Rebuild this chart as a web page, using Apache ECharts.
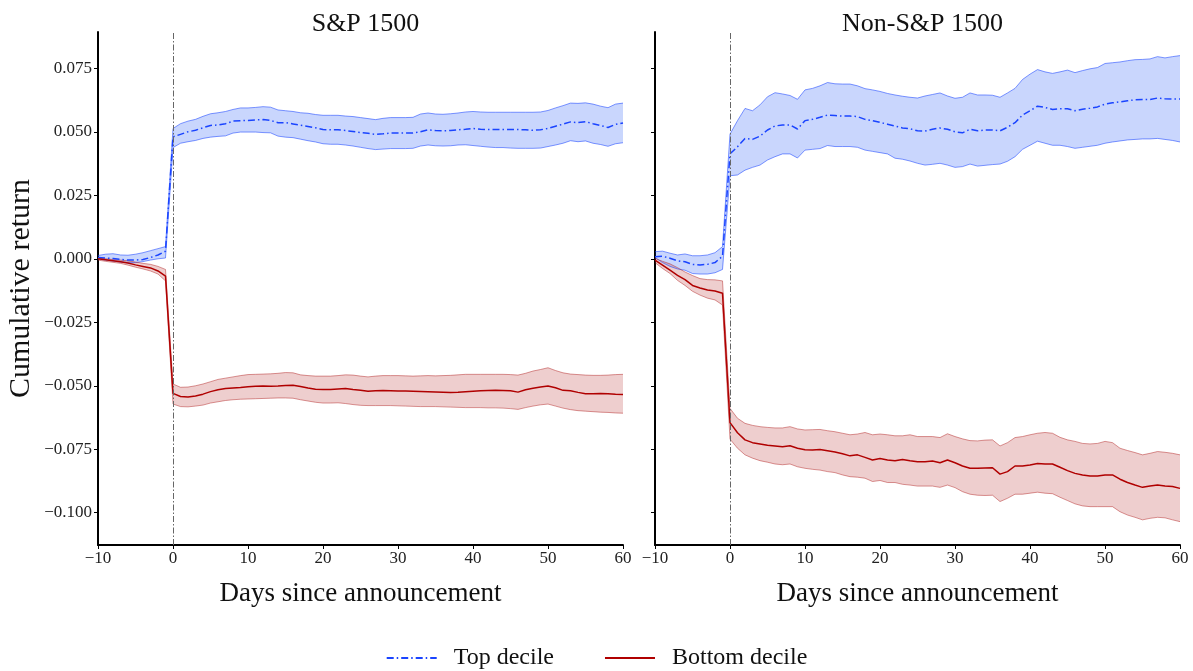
<!DOCTYPE html>
<html>
<head>
<meta charset="utf-8">
<title>Cumulative return around announcement</title>
<script src="https://cdn.jsdelivr.net/npm/echarts@6.0.0/dist/echarts.min.js"></script>
<style>
html, body { margin: 0; padding: 0; background: #fff; }
#chart { width: 1193px; height: 671px; }
</style>
</head>
<body>
<div id="chart"></div>
<script>
// days -10 .. 60 around the announcement (category labels)
var days = [];
for (var d = -10; d <= 60; d++) {
	days.push(String(d));
}

var panelTitles = ['S&P 1500', 'Non-S&P 1500'];
var yTicks = [-0.100, -0.075, -0.050, -0.025, 0.000, 0.025, 0.050, 0.075];

// S&P 1500 - top decile
var ltMean = [0.0005, 0.0003, 0.0001, -0.0002, -0.0005, -0.0005, -0.0003, 0.0005, 0.0015, 0.0030,
	0.0480, 0.0490, 0.0500, 0.0506, 0.0516, 0.0525, 0.0527, 0.0532, 0.0542, 0.0544,
	0.0545, 0.0547, 0.0548, 0.0545, 0.0536, 0.0536, 0.0531, 0.0526, 0.0521, 0.0516,
	0.0509, 0.0508, 0.0508, 0.0505, 0.0501, 0.0497, 0.0494, 0.0490, 0.0492, 0.0495,
	0.0495, 0.0495, 0.0495, 0.0500, 0.0508, 0.0505, 0.0504, 0.0505, 0.0508, 0.0510,
	0.0513, 0.0510, 0.0509, 0.0509, 0.0509, 0.0509, 0.0509, 0.0508, 0.0506, 0.0508,
	0.0513, 0.0522, 0.0530, 0.0539, 0.0536, 0.0540, 0.0532, 0.0525, 0.0517, 0.0529,
	0.0535];
var ltUp = [0.0013, 0.0018, 0.0020, 0.0015, 0.0014, 0.0018, 0.0024, 0.0032, 0.0040, 0.0048,
	0.0513, 0.0532, 0.0542, 0.0549, 0.0561, 0.0571, 0.0575, 0.0580, 0.0588, 0.0594,
	0.0594, 0.0596, 0.0599, 0.0597, 0.0586, 0.0583, 0.0580, 0.0575, 0.0573, 0.0568,
	0.0565, 0.0565, 0.0565, 0.0562, 0.0560, 0.0556, 0.0552, 0.0548, 0.0553, 0.0556,
	0.0556, 0.0556, 0.0557, 0.0570, 0.0574, 0.0570, 0.0569, 0.0571, 0.0574, 0.0578,
	0.0580, 0.0578, 0.0577, 0.0577, 0.0577, 0.0577, 0.0577, 0.0577, 0.0577, 0.0578,
	0.0584, 0.0594, 0.0603, 0.0613, 0.0612, 0.0614, 0.0609, 0.0601, 0.0595, 0.0609,
	0.0613];
var ltLo = [0.0000, -0.0005, -0.0009, -0.0013, -0.0016, -0.0015, -0.0011, -0.0005, 0.0000, 0.0003,
	0.0438, 0.0455, 0.0461, 0.0466, 0.0474, 0.0479, 0.0482, 0.0484, 0.0495, 0.0499,
	0.0499, 0.0499, 0.0497, 0.0496, 0.0483, 0.0479, 0.0477, 0.0471, 0.0465, 0.0460,
	0.0453, 0.0451, 0.0451, 0.0448, 0.0444, 0.0439, 0.0434, 0.0430, 0.0432, 0.0434,
	0.0434, 0.0434, 0.0435, 0.0444, 0.0448, 0.0445, 0.0444, 0.0445, 0.0448, 0.0449,
	0.0446, 0.0443, 0.0440, 0.0438, 0.0438, 0.0436, 0.0435, 0.0435, 0.0435, 0.0436,
	0.0442, 0.0448, 0.0455, 0.0465, 0.0461, 0.0464, 0.0455, 0.0450, 0.0443, 0.0453,
	0.0457];

// S&P 1500 - bottom decile
var lbMean = [0.0000, -0.0004, -0.0008, -0.0012, -0.0017, -0.0024, -0.0030, -0.0036, -0.0048, -0.0068,
	-0.0530, -0.0542, -0.0544, -0.0540, -0.0533, -0.0523, -0.0516, -0.0511, -0.0509, -0.0507,
	-0.0504, -0.0502, -0.0501, -0.0502, -0.0501, -0.0499, -0.0498, -0.0503, -0.0509, -0.0514,
	-0.0515, -0.0515, -0.0513, -0.0511, -0.0515, -0.0518, -0.0522, -0.0520, -0.0519, -0.0520,
	-0.0521, -0.0521, -0.0522, -0.0523, -0.0524, -0.0525, -0.0526, -0.0527, -0.0526, -0.0524,
	-0.0522, -0.0520, -0.0519, -0.0518, -0.0519, -0.0520, -0.0525, -0.0516, -0.0510, -0.0505,
	-0.0501, -0.0508, -0.0518, -0.0520, -0.0526, -0.0531, -0.0531, -0.0530, -0.0531, -0.0533,
	-0.0534];
var lbUp = [0.0003, 0.0000, -0.0003, -0.0005, -0.0008, -0.0013, -0.0018, -0.0022, -0.0030, -0.0042,
	-0.0493, -0.0506, -0.0505, -0.0500, -0.0493, -0.0484, -0.0475, -0.0470, -0.0465, -0.0460,
	-0.0456, -0.0455, -0.0454, -0.0453, -0.0451, -0.0448, -0.0449, -0.0457, -0.0460, -0.0462,
	-0.0462, -0.0462, -0.0460, -0.0457, -0.0458, -0.0462, -0.0465, -0.0462, -0.0460, -0.0460,
	-0.0460, -0.0461, -0.0462, -0.0461, -0.0460, -0.0461, -0.0460, -0.0459, -0.0457, -0.0455,
	-0.0455, -0.0455, -0.0455, -0.0455, -0.0455, -0.0456, -0.0458, -0.0451, -0.0442, -0.0436,
	-0.0429, -0.0440, -0.0449, -0.0454, -0.0456, -0.0458, -0.0459, -0.0459, -0.0458, -0.0456,
	-0.0455];
var lbLo = [-0.0005, -0.0010, -0.0014, -0.0018, -0.0025, -0.0033, -0.0040, -0.0048, -0.0060, -0.0087,
	-0.0572, -0.0582, -0.0583, -0.0580, -0.0576, -0.0568, -0.0563, -0.0558, -0.0555, -0.0553,
	-0.0552, -0.0551, -0.0550, -0.0549, -0.0548, -0.0548, -0.0549, -0.0555, -0.0560, -0.0565,
	-0.0568, -0.0568, -0.0567, -0.0570, -0.0574, -0.0577, -0.0578, -0.0578, -0.0578, -0.0578,
	-0.0579, -0.0580, -0.0581, -0.0582, -0.0582, -0.0582, -0.0583, -0.0584, -0.0585, -0.0586,
	-0.0586, -0.0586, -0.0587, -0.0587, -0.0588, -0.0590, -0.0593, -0.0586, -0.0580, -0.0575,
	-0.0572, -0.0580, -0.0588, -0.0594, -0.0598, -0.0600, -0.0602, -0.0604, -0.0605, -0.0607,
	-0.0608];

// Non-S&P 1500 - top decile
var rtMean = [0.0008, 0.0010, 0.0002, -0.0008, -0.0012, -0.0022, -0.0024, -0.0022, -0.0015, 0.0010,
	0.0413, 0.0441, 0.0474, 0.0470, 0.0483, 0.0507, 0.0523, 0.0527, 0.0527, 0.0511,
	0.0544, 0.0549, 0.0557, 0.0566, 0.0564, 0.0562, 0.0562, 0.0560, 0.0549, 0.0544,
	0.0537, 0.0530, 0.0523, 0.0515, 0.0512, 0.0504, 0.0503, 0.0510, 0.0515, 0.0510,
	0.0500, 0.0496, 0.0510, 0.0504, 0.0507, 0.0507, 0.0504, 0.0518, 0.0536, 0.0566,
	0.0583, 0.0601, 0.0596, 0.0588, 0.0591, 0.0591, 0.0583, 0.0589, 0.0593, 0.0598,
	0.0609, 0.0614, 0.0618, 0.0622, 0.0626, 0.0627, 0.0627, 0.0633, 0.0630, 0.0629,
	0.0629];
var rtUp = [0.0028, 0.0030, 0.0022, 0.0015, 0.0019, 0.0012, 0.0012, 0.0015, 0.0024, 0.0048,
	0.0491, 0.0544, 0.0592, 0.0583, 0.0606, 0.0638, 0.0654, 0.0649, 0.0643, 0.0628,
	0.0665, 0.0671, 0.0681, 0.0694, 0.0689, 0.0688, 0.0688, 0.0681, 0.0670, 0.0665,
	0.0659, 0.0651, 0.0645, 0.0640, 0.0636, 0.0633, 0.0641, 0.0647, 0.0653, 0.0641,
	0.0632, 0.0636, 0.0653, 0.0645, 0.0645, 0.0644, 0.0636, 0.0653, 0.0671, 0.0706,
	0.0727, 0.0745, 0.0736, 0.0730, 0.0736, 0.0743, 0.0733, 0.0741, 0.0748, 0.0753,
	0.0769, 0.0772, 0.0775, 0.0780, 0.0784, 0.0785, 0.0787, 0.0796, 0.0791, 0.0796,
	0.0800];
var rtLo = [0.0005, -0.0015, -0.0030, -0.0040, -0.0045, -0.0058, -0.0060, -0.0060, -0.0055, -0.0042,
	0.0327, 0.0330, 0.0349, 0.0360, 0.0369, 0.0389, 0.0402, 0.0413, 0.0413, 0.0397,
	0.0428, 0.0431, 0.0434, 0.0446, 0.0442, 0.0442, 0.0442, 0.0439, 0.0428, 0.0423,
	0.0418, 0.0413, 0.0396, 0.0392, 0.0385, 0.0376, 0.0369, 0.0372, 0.0376, 0.0369,
	0.0360, 0.0363, 0.0373, 0.0365, 0.0368, 0.0371, 0.0373, 0.0384, 0.0402, 0.0431,
	0.0447, 0.0463, 0.0455, 0.0447, 0.0447, 0.0442, 0.0435, 0.0439, 0.0443, 0.0447,
	0.0455, 0.0460, 0.0464, 0.0468, 0.0470, 0.0472, 0.0472, 0.0474, 0.0470, 0.0466,
	0.0460];

// Non-S&P 1500 - bottom decile
var rbMean = [-0.0005, -0.0025, -0.0045, -0.0065, -0.0082, -0.0105, -0.0115, -0.0123, -0.0127, -0.0136,
	-0.0645, -0.0685, -0.0713, -0.0724, -0.0729, -0.0734, -0.0737, -0.0740, -0.0736, -0.0746,
	-0.0752, -0.0753, -0.0751, -0.0756, -0.0761, -0.0768, -0.0776, -0.0772, -0.0782, -0.0792,
	-0.0786, -0.0792, -0.0795, -0.0790, -0.0795, -0.0799, -0.0799, -0.0796, -0.0803, -0.0792,
	-0.0803, -0.0816, -0.0825, -0.0825, -0.0824, -0.0823, -0.0848, -0.0838, -0.0816, -0.0816,
	-0.0812, -0.0806, -0.0808, -0.0808, -0.0821, -0.0834, -0.0845, -0.0851, -0.0855, -0.0855,
	-0.0851, -0.0851, -0.0868, -0.0881, -0.0891, -0.0900, -0.0895, -0.0891, -0.0895, -0.0897,
	-0.0904];
var rbUp = [0.0002, -0.0010, -0.0020, -0.0035, -0.0052, -0.0066, -0.0078, -0.0082, -0.0083, -0.0087,
	-0.0589, -0.0628, -0.0648, -0.0656, -0.0661, -0.0664, -0.0666, -0.0666, -0.0661, -0.0670,
	-0.0674, -0.0673, -0.0672, -0.0677, -0.0681, -0.0687, -0.0693, -0.0690, -0.0684, -0.0693,
	-0.0690, -0.0693, -0.0697, -0.0697, -0.0693, -0.0700, -0.0700, -0.0700, -0.0704, -0.0689,
	-0.0700, -0.0709, -0.0716, -0.0717, -0.0714, -0.0713, -0.0737, -0.0724, -0.0704, -0.0700,
	-0.0693, -0.0687, -0.0684, -0.0687, -0.0703, -0.0713, -0.0719, -0.0727, -0.0729, -0.0727,
	-0.0719, -0.0724, -0.0746, -0.0755, -0.0763, -0.0772, -0.0766, -0.0759, -0.0762, -0.0766,
	-0.0772];
var rbLo = [-0.0015, -0.0038, -0.0058, -0.0085, -0.0105, -0.0128, -0.0143, -0.0155, -0.0162, -0.0182,
	-0.0710, -0.0746, -0.0772, -0.0785, -0.0795, -0.0801, -0.0808, -0.0811, -0.0808, -0.0819,
	-0.0825, -0.0829, -0.0832, -0.0838, -0.0842, -0.0851, -0.0858, -0.0860, -0.0864, -0.0877,
	-0.0873, -0.0881, -0.0881, -0.0888, -0.0891, -0.0895, -0.0895, -0.0895, -0.0900, -0.0891,
	-0.0901, -0.0917, -0.0927, -0.0931, -0.0932, -0.0931, -0.0956, -0.0943, -0.0927, -0.0927,
	-0.0923, -0.0919, -0.0923, -0.0925, -0.0939, -0.0952, -0.0965, -0.0973, -0.0976, -0.0976,
	-0.0976, -0.0976, -0.0996, -0.1009, -0.1018, -0.1028, -0.1022, -0.1018, -0.1020, -0.1028,
	-0.1035];

var FONT = "'Liberation Serif', 'DejaVu Serif', serif";
var BLUE = '#1a44ff';
var RED = '#b00000';

var panels = [{
			top : {mean : ltMean, up : ltUp, lo : ltLo},
			bottom : {mean : lbMean, up : lbUp, lo : lbLo}
		}, {
			top : {mean : rtMean, up : rtUp, lo : rtLo},
			bottom : {mean : rbMean, up : rbUp, lo : rbLo}
		}];

// band height above the lower edge, stacked on it
function widths(up, lo) {
	return up.map(function(v, i) {
				return v - lo[i];
			});
}

function minusSign(v) {
	return String(v).replace('-', '\u2212');
}

function bandSeries(idx, key, grp, edge, fill) {
	return [{
				type : 'line',
				name : key + '_lo_' + idx,
				xAxisIndex : idx,
				yAxisIndex : idx,
				data : grp.lo,
				stack : key + idx,
				stackStrategy : 'all',
				symbol : 'none',
				silent : true,
				z : 1,
				lineStyle : {color : edge, width : 0.8}
			}, {
				type : 'line',
				name : key + '_band_' + idx,
				xAxisIndex : idx,
				yAxisIndex : idx,
				data : widths(grp.up, grp.lo),
				stack : key + idx,
				stackStrategy : 'all',
				symbol : 'none',
				silent : true,
				z : 1,
				lineStyle : {color : edge, width : 0.8},
				areaStyle : {color : fill, opacity : 1}
			}];
}

var grids = [], xAxes = [], yAxes = [], titles = [], series = [];

panels.forEach(function(p, i) {
	var left = i == 0 ? 98 : 655;
	grids.push({left : left, top : 32, width : 525, height : 513});
	titles.push({
				text : panelTitles[i],
				left : left + 262.5,
				top : 6,
				textAlign : 'center',
				textStyle : {fontFamily : FONT, fontSize : 26, fontWeight : 'normal', color : '#111'}
			});
	xAxes.push({
				type : 'category',
				gridIndex : i,
				data : days,
				boundaryGap : false,
				name : 'Days since announcement',
				nameLocation : 'middle',
				nameGap : 35,
				nameTextStyle : {fontFamily : FONT, fontSize : 27, color : '#111'},
				axisLine : {show : true, onZero : false, lineStyle : {color : '#000', width : 2}},
				axisTick : {show : true, interval : 9, length : 4, lineStyle : {color : '#000', width : 1}},
				axisLabel : {
					interval : 9,
					fontFamily : FONT,
					fontSize : 17,
					color : '#222',
					margin : 5,
					formatter : minusSign
				},
				splitLine : {show : false}
			});
	yAxes.push({
				type : 'value',
				gridIndex : i,
				min : -0.1127,
				max : 0.0893,
				name : i == 0 ? 'Cumulative return' : '',
				nameLocation : 'middle',
				nameGap : 62,
				nameTextStyle : {fontFamily : FONT, fontSize : 30, color : '#111'},
				axisLine : {show : true, onZero : false, lineStyle : {color : '#000', width : 2}},
				axisTick : {show : true, length : 4, customValues : yTicks, lineStyle : {color : '#000', width : 1}},
				axisLabel : {
					show : i == 0,
					customValues : yTicks,
					fontFamily : FONT,
					fontSize : 17,
					color : '#222',
					margin : 6,
					formatter : function(v) {
						return minusSign(v.toFixed(3));
					}
				},
				splitLine : {show : false}
			});

	series = series.concat(bandSeries(i, 'top', p.top, 'rgba(26,68,255,0.7)', 'rgba(0,60,245,0.21)'));
	series = series.concat(bandSeries(i, 'bot', p.bottom, 'rgba(178,34,34,0.6)', 'rgba(178,34,34,0.22)'));

	series.push({
				type : 'line',
				name : 'Top decile',
				xAxisIndex : i,
				yAxisIndex : i,
				data : p.top.mean,
				symbol : 'none',
				z : 3,
				lineStyle : {color : BLUE, width : 1.5, type : [7, 3, 1.5, 3]},
				itemStyle : {color : BLUE},
				markLine : {
					silent : true,
					symbol : 'none',
					label : {show : false},
					lineStyle : {color : '#666', width : 1, type : [6, 2, 1.5, 2]},
					data : [{xAxis : '0'}]
				}
			});
	series.push({
				type : 'line',
				name : 'Bottom decile',
				xAxisIndex : i,
				yAxisIndex : i,
				data : p.bottom.mean,
				symbol : 'none',
				z : 3,
				lineStyle : {color : RED, width : 1.5},
				itemStyle : {color : RED}
			});
});

var chart = echarts.init(document.getElementById('chart'));

chart.setOption({
			animation : false,
			backgroundColor : '#fff',
			title : titles,
			grid : grids,
			xAxis : xAxes,
			yAxis : yAxes,
			legend : {
				data : ['Top decile', 'Bottom decile'],
				top : 641,
				left : 'center',
				itemWidth : 50,
				itemHeight : 12,
				itemGap : 50,
				itemStyle : {opacity : 0},
				textStyle : {fontFamily : FONT, fontSize : 24, color : '#111', padding : [0, 0, 0, 12]}
			},
			series : series
		});
</script>
</body>
</html>
